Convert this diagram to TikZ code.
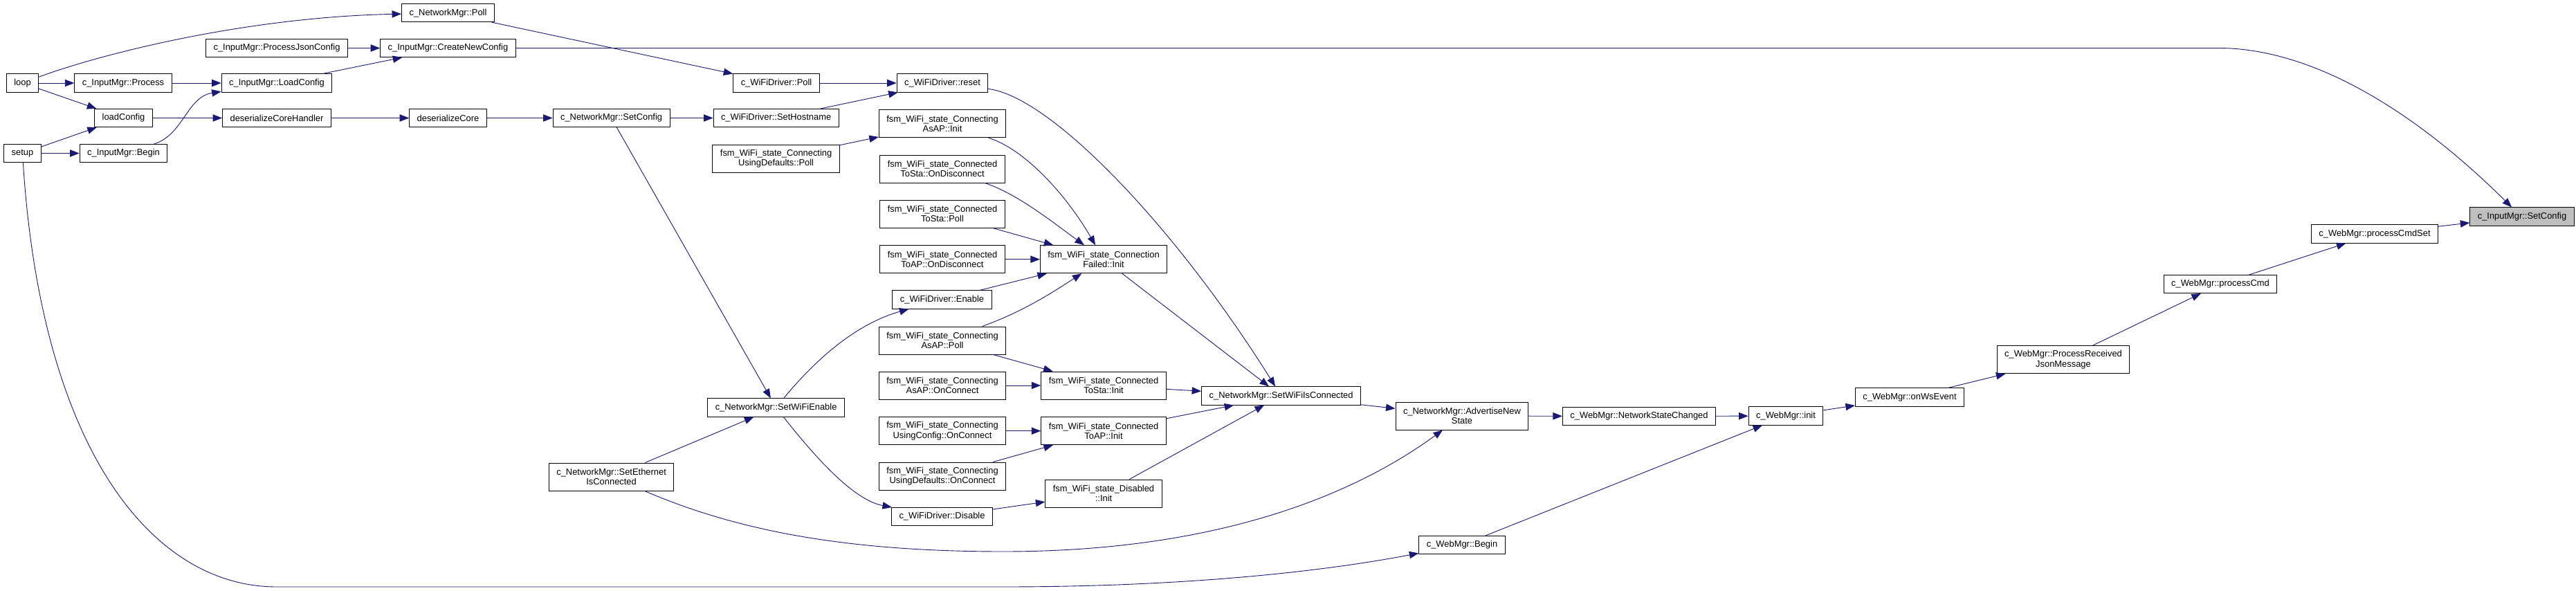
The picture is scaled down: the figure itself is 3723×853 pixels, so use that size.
\documentclass[tikz,border=0pt]{standalone}
\usepackage{fontspec}
\setmainfont{Liberation Sans}
\usetikzlibrary{arrows.meta}
\definecolor{midnight}{HTML}{191970}

\begin{document}
\begin{tikzpicture}[x=0.775pt, y=-0.775pt,
    func/.style={draw=black, line width=0.75pt, fill=white, inner xsep=8.5pt, inner ysep=2pt,
        minimum height=20.2pt, font=\fontsize{10}{11.1}\selectfont},
    func2/.style={func, align=center, minimum height=31pt},
    root/.style={func, fill=black!25},
    call/.style={draw=midnight, line width=0.7pt, -{Triangle[length=10.5pt,width=8pt]}}]
    \useasboundingbox (0,0) rectangle (3723,853);

    % callers of InputMgr
    \node[func] (loop) at (32.5,120) {loop};
    \node[func] (setup) at (32.5,221.5) {setup};
    \node[func] (procIn) at (178,120) {c\_InputMgr::Process};
    \node[func] (loadcfg) at (178.5,170.5) {loadConfig};
    \node[func] (beginIn) at (178.5,221.5) {c\_InputMgr::Begin};
    \node[func] (procJson) at (400,69.5) {c\_InputMgr::ProcessJsonConfig};
    \node[func] (loadIn) at (400,120) {c\_InputMgr::LoadConfig};
    \node[func] (desHandler) at (400,170.5) {deserializeCoreHandler};
    \node[func] (nmPoll) at (647.5,18.7) {c\_NetworkMgr::Poll};
    \node[func] (newCfg) at (647.5,69.5) {c\_InputMgr::CreateNewConfig};
    \node[func] (desCore) at (647.5,170.5) {deserializeCore};

    % network manager / wifi driver
    \node[func] (nmSetCfg) at (883.6,170.5) {c\_NetworkMgr::SetConfig};
    \node[func2] (nmEth) at (883.6,689) {c\_NetworkMgr::SetEthernet\\IsConnected};
    \node[func] (wdPoll) at (1122,120) {c\_WiFiDriver::Poll};
    \node[func] (wdHost) at (1121.6,170.5) {c\_WiFiDriver::SetHostname};
    \node[func2] (defPoll) at (1121.6,229) {fsm\_WiFi\_state\_Connecting\\UsingDefaults::Poll};
    \node[func] (wifiEn) at (1121.6,589) {c\_NetworkMgr::SetWiFiEnable};

    % fsm states
    \node[func] (wdReset) at (1362,120) {c\_WiFiDriver::reset};
    \node[func2] (apInit) at (1362,178.7) {fsm\_WiFi\_state\_Connecting\\AsAP::Init};
    \node[func2] (staDisc) at (1362,244) {fsm\_WiFi\_state\_Connected\\ToSta::OnDisconnect};
    \node[func2] (staPoll) at (1362,309) {fsm\_WiFi\_state\_Connected\\ToSta::Poll};
    \node[func2] (apDisc) at (1362,374.7) {fsm\_WiFi\_state\_Connected\\ToAP::OnDisconnect};
    \node[func] (wdEnable) at (1361.5,433) {c\_WiFiDriver::Enable};
    \node[func2] (apPoll) at (1362,492) {fsm\_WiFi\_state\_Connecting\\AsAP::Poll};
    \node[func2] (apConn) at (1362,557) {fsm\_WiFi\_state\_Connecting\\AsAP::OnConnect};
    \node[func2] (cfgConn) at (1362,622.7) {fsm\_WiFi\_state\_Connecting\\UsingConfig::OnConnect};
    \node[func2] (defConn) at (1362,688) {fsm\_WiFi\_state\_Connecting\\UsingDefaults::OnConnect};
    \node[func] (wdDisable) at (1361.5,746.5) {c\_WiFiDriver::Disable};
    \node[func2] (failInit) at (1595,374.7) {fsm\_WiFi\_state\_Connection\\Failed::Init};
    \node[func2] (staInit) at (1595,557) {fsm\_WiFi\_state\_Connected\\ToSta::Init};
    \node[func2] (toApInit) at (1595,622.7) {fsm\_WiFi\_state\_Connected\\ToAP::Init};
    \node[func2] (disInit) at (1595,713) {fsm\_WiFi\_state\_Disabled\\::Init};

    % web manager
    \node[func] (wifiConn) at (1851.6,572) {c\_NetworkMgr::SetWiFiIsConnected};
    \node[func2] (advState) at (2113,601) {c\_NetworkMgr::AdvertiseNew\\State};
    \node[func] (wmBegin) at (2113,787.5) {c\_WebMgr::Begin};
    \node[func] (netChanged) at (2369,601.5) {c\_WebMgr::NetworkStateChanged};
    \node[func] (wmInit) at (2581,601) {c\_WebMgr::init};
    \node[func] (wsEvent) at (2760,574) {c\_WebMgr::onWsEvent};
    \node[func2] (procMsg) at (2982,519.6) {c\_WebMgr::ProcessReceived\\JsonMessage};
    \node[func] (procCmd) at (3209,410.5) {c\_WebMgr::processCmd};
    \node[func] (procCmdSet) at (3432,338) {c\_WebMgr::processCmdSet};
    \node[root] (setCfg) at (3645,313) {c\_InputMgr::SetConfig};

    % calls
    \draw[call] (loop) .. controls (140,80) and (350,25) .. (nmPoll);
    \draw[call] (loop) -- (procIn);
    \draw[call] (loop) -- (loadcfg);
    \draw[call] (setup) -- (loadcfg);
    \draw[call] (setup) -- (beginIn);
    \draw[call] (setup) .. controls (60,650) and (220,848) .. (400,848) -- (1450,848)
        .. controls (1700,848) and (1900,828) .. (wmBegin);
    \draw[call] (procIn) -- (loadIn);
    \draw[call] (beginIn) .. controls (265,195) and (270,140) .. (loadIn);
    \draw[call] (loadcfg) -- (desHandler);
    \draw[call] (loadIn) -- (newCfg);
    \draw[call] (procJson) -- (newCfg);
    \draw[call] (newCfg) -- (3210,69.5) .. controls (3390,72) and (3560,230) .. ([xshift=-11.6pt]setCfg.north);
    \draw[call] (desHandler) -- (desCore);
    \draw[call] (desCore) -- (nmSetCfg);
    \draw[call] (nmPoll) -- (wdPoll);
    \draw[call] (nmSetCfg) -- (wdHost);
    \draw[call] (nmSetCfg) -- (wifiEn);
    \draw[call] (nmEth) -- (wifiEn);
    \draw[call] (nmEth) .. controls (1050,760) and (1200,797) .. (1450,797)
        .. controls (1750,797) and (1950,720) .. (advState);
    \draw[call] (wdPoll) -- (wdReset);
    \draw[call] (wdHost) -- (wdReset);
    \draw[call] (defPoll) -- (apInit);
    \draw[call] (wifiEn) .. controls (1170,530) and (1230,470) .. (wdEnable);
    \draw[call] (wifiEn) .. controls (1170,650) and (1230,722) .. (wdDisable);
    \draw[call] (wdReset) .. controls (1520,140) and (1700,330) .. (wifiConn);
    \draw[call] (apInit) .. controls (1480,215) and (1540,280) .. (failInit);
    \draw[call] (staDisc) .. controls (1470,280) and (1520,320) .. (failInit);
    \draw[call] (staPoll) -- (failInit);
    \draw[call] (apDisc) -- (failInit);
    \draw[call] (wdEnable) -- (failInit);
    \draw[call] (apPoll) .. controls (1480,450) and (1525,420) .. (failInit);
    \draw[call] (apPoll) -- (staInit);
    \draw[call] (apConn) -- (staInit);
    \draw[call] (cfgConn) -- (toApInit);
    \draw[call] (defConn) -- (toApInit);
    \draw[call] (wdDisable) -- (disInit);
    \draw[call] (failInit) -- (wifiConn);
    \draw[call] (staInit) -- (wifiConn);
    \draw[call] (toApInit) -- (wifiConn);
    \draw[call] (disInit) -- (wifiConn);
    \draw[call] (wifiConn) -- (advState);
    \draw[call] (advState) -- (netChanged);
    \draw[call] (netChanged) -- (wmInit);
    \draw[call] (wmBegin) -- (wmInit);
    \draw[call] (wmInit) -- (wsEvent);
    \draw[call] (wsEvent) -- (procMsg);
    \draw[call] (procMsg) -- (procCmd);
    \draw[call] (procCmd) -- (procCmdSet);
    \draw[call] (procCmdSet) -- (setCfg);
\end{tikzpicture}
\end{document}
